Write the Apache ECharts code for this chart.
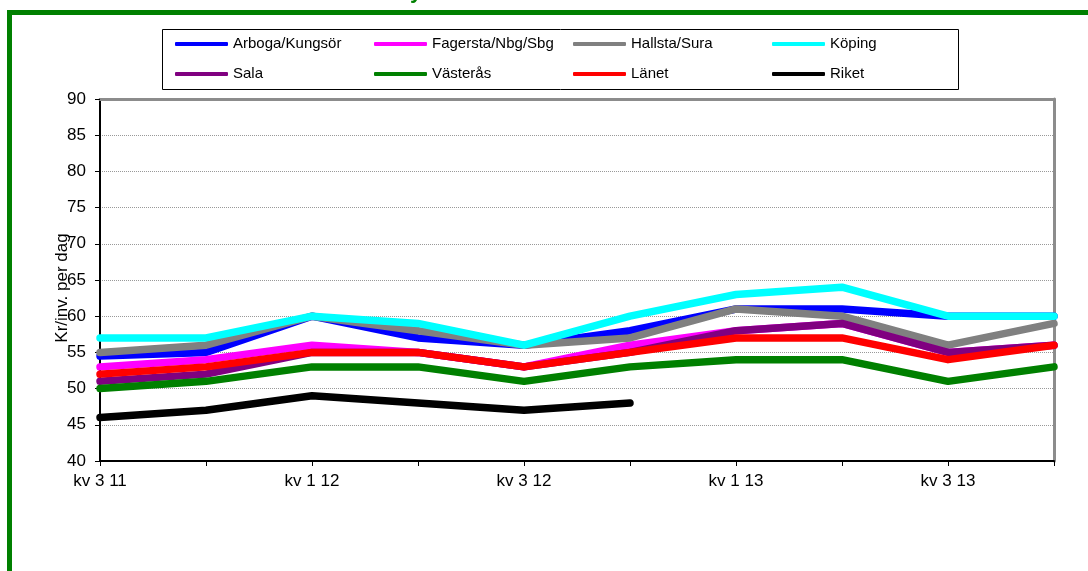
<!DOCTYPE html>
<html>
<head>
<meta charset="utf-8">
<script src="https://cdn.jsdelivr.net/npm/echarts@6/dist/echarts.min.js"></script>
<style>
  html, body { margin: 0; padding: 0; background: #fff; }
  #chart { width: 1088px; height: 571px; }
</style>
</head>
<body>
<div id="chart"></div>
<script>
const quarters = ['kv 3 11', 'kv 4 11', 'kv 1 12', 'kv 2 12', 'kv 3 12', 'kv 4 12', 'kv 1 13', 'kv 2 13', 'kv 3 13', 'kv 4 13']

const arboga = [54.5, 55, 60, 57, 56, 58, 61, 61, 60, 60]
const fagersta = [53, 54, 56, 55, 53, 56, 58, 59, 55, 56]
const hallsta = [55, 56, 60, 58, 56, 57, 61, 60, 56, 59]
const koping = [57, 57, 60, 59, 56, 60, 63, 64, 60, 60]
const sala = [51, 52, 55, 55, 53, 55, 58, 59, 55, 56]
const vasteras = [50, 51, 53, 53, 51, 53, 54, 54, 51, 53]
const lanet = [52, 53, 55, 55, 53, 55, 57, 57, 54, 56]
const riket = [46, 47, 49, 48, 47, 48, null, null, null, null]

const seriesNames = ['Arboga/Kungsör', 'Fagersta/Nbg/Sbg', 'Hallsta/Sura', 'Köping', 'Sala', 'Västerås', 'Länet', 'Riket']
const seriesColors = ['#0000ff', '#ff00ff', '#808080', '#00ffff', '#800080', '#008000', '#ff0000', '#000000']
const seriesData = [arboga, fagersta, hallsta, koping, sala, vasteras, lanet, riket]

const yMin = 40
const yMax = 90
const yStep = 5

const font = "'Liberation Sans', Arial, sans-serif"

const chart = echarts.init(document.getElementById('chart'))

// legend is laid out in four columns of two rows, like the original
const legendCols = [[0, 4], [1, 5], [2, 6], [3, 7]]
const legends = legendCols.map((idx, i) => ({
  orient: 'vertical',
  left: 175 + i * 199,
  top: 36,
  padding: 0,
  itemGap: 14,
  itemWidth: 53,
  itemHeight: 4,
  icon: 'roundRect',
  selectedMode: false,
  data: idx.map(k => seriesNames[k]),
  textStyle: { fontFamily: font, fontSize: 15, color: '#000', lineHeight: 16 }
}))

const option = {
  animation: false,
  backgroundColor: '#fff',
  color: seriesColors,
  legend: legends,
  grid: { left: 100, right: 34, top: 99, bottom: 110 },
  graphic: [
    {
      type: 'rect',
      shape: { x: 9.5, y: 12.5, width: 1200, height: 700 },
      style: { fill: 'none', stroke: '#008000', lineWidth: 5 },
      silent: true
    },
    {
      // tail of the cut-off title above the frame
      type: 'text',
      x: 410, y: 3,
      style: { text: 'y', fill: '#008000', font: 'bold 22px ' + font, textVerticalAlign: 'bottom' },
      silent: true
    },
    {
      type: 'rect',
      shape: { x: 162.5, y: 29.5, width: 796, height: 60 },
      style: { fill: 'none', stroke: '#000', lineWidth: 1 },
      silent: true
    },
    {
      type: 'text',
      x: 62, y: 288,
      rotation: Math.PI / 2,
      style: {
        text: 'Kr/inv. per dag',
        fill: '#000',
        font: '17px ' + font,
        textAlign: 'center',
        textVerticalAlign: 'middle'
      },
      silent: true
    }
  ],
  xAxis: [
    {
      type: 'category',
      data: quarters,
      boundaryGap: false,
      axisLine: { lineStyle: { color: '#000', width: 2 } },
      axisTick: { show: true, interval: 0, length: 5, lineStyle: { color: '#000' } },
      axisLabel: { interval: 1, margin: 12, color: '#000', fontFamily: font, fontSize: 17 },
      splitLine: { show: false }
    },
    {
      type: 'category',
      data: quarters,
      position: 'top',
      boundaryGap: false,
      axisLine: { lineStyle: { color: '#8c8c8c', width: 3 } },
      axisTick: { show: false },
      axisLabel: { show: false },
      splitLine: { show: false }
    }
  ],
  yAxis: [
    {
      type: 'value',
      min: yMin,
      max: yMax,
      interval: yStep,
      axisLine: { show: true, lineStyle: { color: '#000', width: 2 } },
      axisTick: { show: true, length: 5, lineStyle: { color: '#000' } },
      axisLabel: { margin: 14, color: '#000', fontFamily: font, fontSize: 17 },
      splitLine: { show: true, lineStyle: { color: '#999', type: 'dotted', width: 1 } }
    },
    {
      type: 'value',
      min: yMin,
      max: yMax,
      interval: yStep,
      position: 'right',
      axisLine: { show: true, lineStyle: { color: '#8c8c8c', width: 3 } },
      axisTick: { show: false },
      axisLabel: { show: false },
      splitLine: { show: false }
    }
  ],
  series: seriesNames.map((name, i) => ({
    name: name,
    type: 'line',
    data: seriesData[i],
    showSymbol: false,
    symbol: 'none',
    lineStyle: { width: 7.5, color: seriesColors[i], cap: 'round', join: 'round' },
    itemStyle: { color: seriesColors[i] }
  }))
}

chart.setOption(option)
</script>
</body>
</html>
